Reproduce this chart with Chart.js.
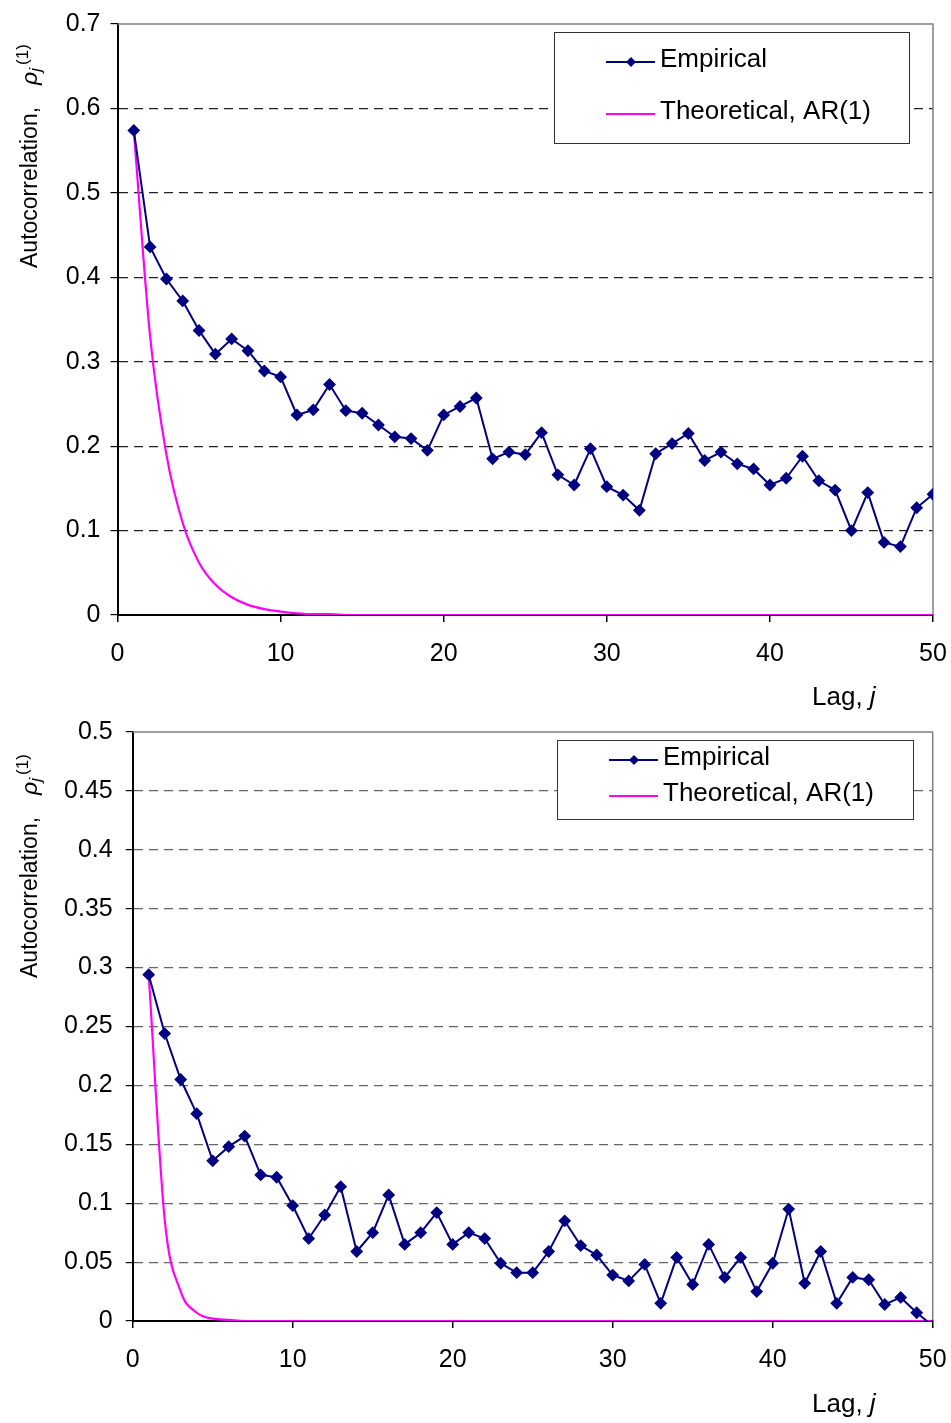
<!DOCTYPE html>
<html>
<head>
<meta charset="utf-8">
<script src="https://cdn.jsdelivr.net/npm/chart.js@4/dist/chart.umd.min.js"></script>
<style>
html,body{margin:0;padding:0;background:#fff;}
#wrap{position:relative;width:951px;height:1423px;}
canvas{position:absolute;left:0;}
#c1{top:0;}
#c2{top:710px;}
</style>
</head>
<body>
<div id="wrap">
<canvas id="c1" width="951" height="710"></canvas>
<canvas id="c2" width="951" height="713"></canvas>
</div>
<script>
// Autocorrelation of two series, empirical vs theoretical AR(1).

const LAGS=[1,2,3,4,5,6,7,8,9,10,11,12,13,14,15,16,17,18,19,20,21,22,23,24,25,26,27,28,29,30,31,32,33,34,35,36,37,38,39,40,41,42,43,44,45,46,47,48,49,50];

const EMP_TOP=[0.574,0.436,0.398,0.372,0.337,0.309,0.327,0.313,0.289,0.282,
  0.237,0.243,0.273,0.242,0.239,0.225,0.211,0.209,0.195,0.237,
  0.247,0.257,0.185,0.193,0.190,0.216,0.166,0.154,0.197,0.152,
  0.142,0.124,0.191,0.203,0.215,0.183,0.193,0.179,0.173,0.154,
  0.162,0.188,0.159,0.148,0.100,0.145,0.086,0.081,0.127,0.143];
const THEO_TOP=[0.574,0.330,0.190,0.109,0.062,0.036,0.021,0.012,0.007,0.004,
  0.002,0.001,0.001,0,0,0,0,0,0,0,0,0,0,0,0,0,0,0,0,0,
  0,0,0,0,0,0,0,0,0,0,0,0,0,0,0,0,0,0,0,0];

const EMP_BOT=[0.294,0.244,0.205,0.176,0.136,0.148,0.157,0.124,0.122,0.098,
  0.070,0.090,0.114,0.059,0.075,0.107,0.065,0.075,0.092,0.065,
  0.075,0.070,0.049,0.041,0.041,0.059,0.085,0.064,0.056,0.039,
  0.034,0.048,0.015,0.054,0.031,0.065,0.037,0.054,0.025,0.049,
  0.095,0.032,0.059,0.015,0.037,0.035,0.014,0.020,0.007,-0.004];
const THEO_BOT=[0.294,0.086,0.025,0.007,0.002,0.001,0,0,0,0,
  0,0,0,0,0,0,0,0,0,0,0,0,0,0,0,0,0,0,0,0,
  0,0,0,0,0,0,0,0,0,0,0,0,0,0,0,0,0,0,0,0];

const X_TICKS=[0,10,20,30,40,50];
const Y_TICKS_TOP=[0,0.1,0.2,0.3,0.4,0.5,0.6,0.7];
const Y_TICKS_BOT=[0,0.05,0.1,0.15,0.2,0.25,0.3,0.35,0.4,0.45,0.5];

const SERIES=['Empirical','Theoretical, AR(1)'];
const NAVY='#000080', MAG='#FF00FF';
const FONT='"Liberation Sans", Arial, sans-serif';

function pts(ys){return LAGS.map((x,i)=>({x,y:ys[i]}));}
function fmtTick(v){return String(Number(v.toFixed(2)));}

// draws plot border, axis titles and the boxed legend
const decor={
  id:'decor',
  beforeDatasetsDraw(chart,args,o){
    const {ctx,chartArea:a}=chart;
    ctx.save();
    ctx.strokeStyle='#808080';ctx.lineWidth=1.5;
    ctx.beginPath();ctx.moveTo(a.left,a.top);ctx.lineTo(a.right,a.top);ctx.lineTo(a.right,a.bottom);ctx.stroke();
    ctx.restore();
  },
  afterDraw(chart,args,o){
    const ctx=chart.ctx;
    ctx.save();
    ctx.fillStyle='#000';ctx.textBaseline='middle';ctx.textAlign='left';
    // x title
    ctx.font='26px '+FONT;
    ctx.fillText('Lag, ',o.lagX,o.lagY);
    let w=ctx.measureText('Lag, ').width;
    ctx.font='italic 26px '+FONT;
    ctx.fillText('j',o.lagX+w,o.lagY);
    // y title, rotated
    ctx.translate(o.yTitleX,o.yTitleY);ctx.rotate(-Math.PI/2);
    ctx.textBaseline='alphabetic';
    ctx.font='23px '+FONT;
    let x=0;
    ctx.fillText('Autocorrelation,',x,0);x+=ctx.measureText('Autocorrelation,').width+22;
    ctx.font='italic 23px '+FONT;
    ctx.fillText('\u03C1',x,0);x+=ctx.measureText('\u03C1').width;
    ctx.font='italic 17px '+FONT;
    ctx.fillText('j',x,4);x+=ctx.measureText('j').width+3;
    ctx.font='17px '+FONT;
    ctx.fillText('(1)',x,-9);
    ctx.restore();
    // legend
    const L=o.legend;
    ctx.save();
    ctx.fillStyle='#fff';ctx.fillRect(L.x,L.y,L.w,L.h);
    ctx.strokeStyle='#333';ctx.lineWidth=1;ctx.strokeRect(L.x+0.5,L.y+0.5,L.w,L.h);
    const cols=[NAVY,MAG];
    SERIES.forEach((s,i)=>{
      const yy=L.rows[i];
      ctx.strokeStyle=cols[i];ctx.lineWidth=2;
      ctx.beginPath();ctx.moveTo(L.lx,yy);ctx.lineTo(L.lx+49,yy);ctx.stroke();
      if(i===0){
        ctx.fillStyle=NAVY;ctx.beginPath();
        const cx=L.lx+25;ctx.moveTo(cx,yy-5);ctx.lineTo(cx+5,yy);ctx.lineTo(cx,yy+5);ctx.lineTo(cx-5,yy);ctx.closePath();ctx.fill();
      }
      ctx.fillStyle='#000';ctx.font='26px '+FONT;ctx.textBaseline='middle';
      ctx.fillText(s,L.lx+54,yy-2);
    });
    ctx.restore();
  }
};

function makeChart(id,emp,theo,yMax,yTicks,geo){
  return new Chart(document.getElementById(id),{
    type:'line',
    data:{datasets:[
      {label:SERIES[0],data:pts(emp),borderColor:NAVY,backgroundColor:NAVY,borderWidth:2,
        pointStyle:'rectRot',pointRadius:5,pointHoverRadius:5,pointBackgroundColor:NAVY,pointBorderColor:NAVY,tension:0},
      {label:SERIES[1],data:pts(theo),borderColor:MAG,borderWidth:2.2,pointRadius:0,
        cubicInterpolationMode:'monotone'}
    ]},
    options:{
      responsive:false,animation:false,
      layout:{padding:{left:0,right:geo.padR,top:geo.padT,bottom:0}},
      plugins:{legend:{display:false},tooltip:{enabled:false},
        decor:{lagX:812,lagY:geo.lagY,yTitleX:37,yTitleY:268,legend:geo.legend}},
      scales:{
        x:{type:'linear',min:0,max:50,
          afterFit:s=>{s.height=geo.xH;s.paddingLeft=0;s.paddingRight=0;},
          afterBuildTicks:s=>{s.ticks=X_TICKS.map(v=>({value:v}));},
          grid:{drawOnChartArea:false,drawTicks:true,tickLength:7,tickColor:'#000',lineWidth:1.5},
          border:{display:true,color:'#000',width:2},
          ticks:{color:'#000',font:{family:FONT,size:25},padding:geo.xPad,maxRotation:0,callback:v=>fmtTick(v)}},
        y:{min:0,max:yMax,
          afterFit:s=>{s.width=geo.yW;s.paddingTop=0;s.paddingBottom=0;},
          afterBuildTicks:s=>{s.ticks=yTicks.map(v=>({value:v}));},
          grid:{color:c=>(c.tick&&(c.tick.value===0||c.tick.value===yMax))?'rgba(0,0,0,0)':geo.gridCol,
            lineWidth:1.2,tickBorderDash:[],tickColor:'#000',tickLength:7,drawTicks:true},
          border:{display:true,color:'#000',width:2,dash:[9,6]},
          ticks:{color:'#000',font:{family:FONT,size:25},padding:geo.yPad,callback:v=>fmtTick(v)}}
      }
    },
    plugins:[decor]
  });
}

makeChart('c1',EMP_TOP,THEO_TOP,0.7,Y_TICKS_TOP,{
  padR:18,padT:24,xH:95,yW:117.5,yPad:10,xPad:17,gridCol:'#222',lagY:698,
  legend:{x:554,y:32,w:355,h:111,lx:606,rows:[62,114]}
});
makeChart('c2',EMP_BOT,THEO_BOT,0.5,Y_TICKS_BOT,{
  padR:18.3,padT:22,xH:102,yW:132.7,yPad:13,xPad:17,gridCol:'#666',lagY:695,
  legend:{x:557,y:30,w:356,h:79,lx:609,rows:[50,86]}
});
</script>
</body>
</html>
